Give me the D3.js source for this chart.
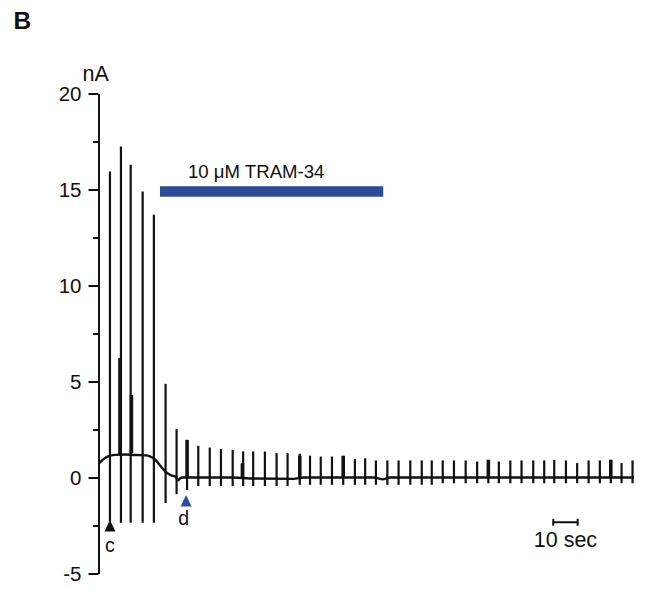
<!DOCTYPE html>
<html>
<head>
<meta charset="utf-8">
<script src="https://cdn.jsdelivr.net/npm/d3@7/dist/d3.min.js"></script>
<style>
  html, body { margin: 0; padding: 0; background: #fff; }
  svg { display: block; }
  text { font-family: "Liberation Sans", Arial, Helvetica, sans-serif; fill: #111; }
</style>
</head>
<body>
<svg id="chart" width="645" height="589"></svg>
<script>
// Stimulus times (s) of each evoked current spike
const spikeTimes = [4.7, 9.2, 13.2, 18.1, 22.7, 27.5, 32.0, 36.3, 40.9, 45.6,
  50.2, 55.0, 59.3, 63.4, 68.2, 73.0, 77.5, 82.5, 86.7, 91.1,
  95.7, 100.3, 105.1, 109.3, 113.7, 118.4, 123.0, 127.8, 132.5, 136.6,
  141.1, 145.7, 150.5, 155.2, 159.8, 164.1, 168.8, 173.4, 178.2, 182.7,
  186.8, 191.6, 196.2, 200.9, 205.5, 210.0, 214.4, 218.9];
// Outward peak of each spike (nA)
const spikePeak = [15.94, 17.24, 16.29, 14.9, 13.68, 4.88, 2.52, 1.96, 1.65, 1.56,
  1.48, 1.44, 1.36, 1.36, 1.35, 1.27, 1.27, 1.24, 1.14, 1.09,
  1.09, 1.13, 0.96, 1.0, 0.89, 0.89, 0.89, 0.89, 0.89, 0.89,
  0.89, 0.89, 0.89, 0.83, 0.92, 0.83, 0.89, 0.89, 0.89, 0.89,
  0.92, 0.89, 0.75, 0.89, 0.89, 0.92, 0.75, 0.89];
// Inward peak of each spike (nA)
const spikeTrough = [-2.3, -2.36, -2.36, -2.36, -2.36, -1.33, -0.87, -0.65, -0.45, -0.45,
  -0.45, -0.45, -0.45, -0.45, -0.45, -0.45, -0.45, -0.38, -0.38, -0.38,
  -0.38, -0.38, -0.38, -0.38, -0.38, -0.38, -0.38, -0.38, -0.38, -0.38,
  -0.3, -0.3, -0.3, -0.3, -0.3, -0.3, -0.3, -0.3, -0.3, -0.3,
  -0.3, -0.3, -0.3, -0.3, -0.3, -0.3, -0.3, -0.3];
// Overlapping (doubled) trace segments: [time s, from nA, to nA]
const doubledTimes = [8.8, 13.5, 36.3, 59.0, 82.5, 100.3, 159.8, 210.0];
const doubledLow = [1.2, 1.27, 0, 0, 0, 0, 0, 0];
const doubledHigh = [6.22, 4.3, 1.96, 0.74, 1.14, 1.13, 0.92, 0.92];
// Slow holding-current trace between spikes: time (s) and current (nA)
const traceTimes = [0, 1.8, 3.9, 6.8, 10.9, 15.0, 19.3, 21.1, 23.2, 25.4, 27.5, 29.7, 31.8,
  32.6, 33.4, 34.6, 55, 62, 80, 84, 113, 116.5, 119.5, 219.5];
const traceValues = [0.7, 0.93, 1.1, 1.18, 1.2, 1.17, 1.15, 1.1, 0.93, 0.6, 0.3, 0.12, 0.02,
  -0.15, -0.05, 0, 0, -0.05, -0.07, 0, 0, -0.1, 0, 0];
// Y axis ticks
const majorTicks = [-5, 0, 5, 10, 15, 20];
const minorTicks = [-2.5, 2.5, 7.5, 12.5, 17.5];
// Drug application window (s) and its level (nA)
const drugLabel = "10 μM TRAM-34";
const drugStart = 25.2, drugEnd = 116.7, drugLevel = 14.9;
// Markers for the sweeps shown in panels c and d
const markerLabels = ["c", "d"];
const markerTimes = [4.7, 35.9];
const markerColors = ["#111111", "#2b4c9b"];
// Time scale bar
const scaleBarStart = 186.4, scaleBarLength = 10;

const svg = d3.select("#chart");
const x = d3.scaleLinear().domain([0, 219.5]).range([98.5, 634]);
const y = d3.scaleLinear().domain([-5, 20]).range([573.5, 93.5]);
const ink = "#111111";
const blue = "#2b4c9b";

// Panel letter
svg.append("text").attr("x", 13.5).attr("y", 29.3)
  .attr("font-size", 24.5).attr("font-weight", "bold").text("B");

// Y axis with major and minor ticks (plain hyphen for negatives)
const yAxis = svg.append("g").attr("transform", `translate(${x(0)},0)`)
  .call(d3.axisLeft(y).tickValues(majorTicks).tickSize(10).tickSizeOuter(0).tickPadding(7)
    .tickFormat(d => String(d)));
yAxis.select(".domain").attr("stroke", ink).attr("stroke-width", 2);
yAxis.selectAll(".tick line").attr("stroke", ink).attr("stroke-width", 2);
yAxis.selectAll(".tick text").attr("font-size", 20.5).attr("fill", ink)
  .attr("dy", "0.32em").style("font-family", '"Liberation Sans", Arial, sans-serif');
const yMinor = svg.append("g").attr("transform", `translate(${x(0)},0)`)
  .call(d3.axisLeft(y).tickValues(minorTicks).tickSize(5.5).tickSizeOuter(0).tickFormat(""));
yMinor.select(".domain").remove();
yMinor.selectAll(".tick line").attr("stroke", ink).attr("stroke-width", 2);

// Unit label
svg.append("text").attr("x", 82.5).attr("y", 80.7).attr("font-size", 21.5).text("nA");

// Slow current trace (also forms the zero line)
const line = d3.line().x(d => x(d[0])).y(d => y(d[1])).curve(d3.curveMonotoneX);
svg.append("path").datum(traceTimes.map((t, i) => [t, traceValues[i]]))
  .attr("d", line).attr("fill", "none").attr("stroke", ink).attr("stroke-width", 2.4);

// Evoked spikes
svg.append("g").selectAll("line").data(spikeTimes).join("line")
  .attr("x1", d => x(d)).attr("x2", d => x(d))
  .attr("y1", (d, i) => y(spikeTrough[i])).attr("y2", (d, i) => y(spikePeak[i]))
  .attr("stroke", ink).attr("stroke-width", 2.2);

// Doubled segments drawn heavier
svg.append("g").selectAll("line").data(doubledTimes).join("line")
  .attr("x1", d => x(d)).attr("x2", d => x(d))
  .attr("y1", (d, i) => y(doubledLow[i])).attr("y2", (d, i) => y(doubledHigh[i]))
  .attr("stroke", ink).attr("stroke-width", 3.6);

// Drug application bar and label
svg.append("line").attr("x1", x(drugStart)).attr("x2", x(drugEnd))
  .attr("y1", y(drugLevel)).attr("y2", y(drugLevel))
  .attr("stroke", blue).attr("stroke-width", 10.5);
svg.append("text").attr("x", x(drugStart) + 28).attr("y", y(drugLevel) - 13)
  .attr("font-size", 18.6).text(drugLabel);

// Sweep markers (triangles) with labels
const markerTop = [-2.21, -0.91];
const labelBase = [551.7, 525];
markerTimes.forEach((t, i) => {
  const cx = x(t), top = y(markerTop[i]);
  svg.append("path")
    .attr("d", `M${cx},${top} L${cx + 5.5},${top + 11.5} L${cx - 5.5},${top + 11.5} Z`)
    .attr("fill", markerColors[i]);
  svg.append("text").attr("x", cx - (i === 1 ? 2.3 : 0)).attr("y", labelBase[i])
    .attr("text-anchor", "middle").attr("font-size", 19.5).text(markerLabels[i]);
});

// Time scale bar
const sbY = 522.3;
const sbX0 = x(scaleBarStart), sbX1 = x(scaleBarStart + scaleBarLength);
svg.append("path")
  .attr("d", `M${sbX0},${sbY - 3.5} V${sbY + 3.5} M${sbX0},${sbY} H${sbX1} M${sbX1},${sbY - 3.5} V${sbY + 3.5}`)
  .attr("fill", "none").attr("stroke", ink).attr("stroke-width", 2);
svg.append("text").attr("x", (sbX0 + sbX1) / 2).attr("y", 546.7)
  .attr("text-anchor", "middle").attr("font-size", 21.5).text("10 sec");
</script>
</body>
</html>
